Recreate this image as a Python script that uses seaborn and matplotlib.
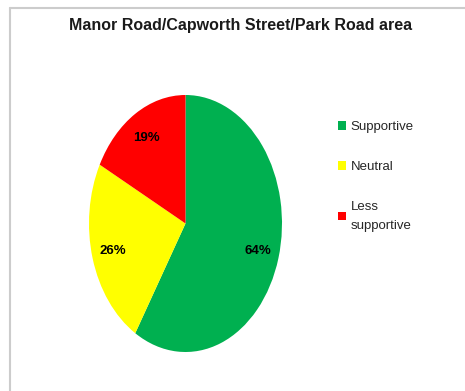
import matplotlib
matplotlib.use("Agg")
import matplotlib.pyplot as plt
import seaborn as sns
from matplotlib.patches import Patch
from matplotlib.lines import Line2D

# data
categories = ["Supportive", "Neutral", "Less\nsupportive"]
values = [64, 26, 19]
colors = ["#00b050", "#ffff00", "#ff0000"]

sns.set_theme(style="white")
plt.rcParams["font.family"] = ["Liberation Sans Narrow", "Liberation Sans", "DejaVu Sans"]

fig = plt.figure(figsize=(4.65, 3.91), dpi=100)
# pie is drawn slightly squashed, like the original
ax = fig.add_axes([89 / 465, 39 / 391, 193 / 465, 257 / 391])

total = sum(values)
wedges, texts, autotexts = ax.pie(
    values,
    colors=sns.color_palette(colors),
    startangle=90,
    counterclock=False,
    autopct=lambda p: f"{p * total / 100:.0f}%",
    pctdistance=0.78,
    wedgeprops={"linewidth": 0},
    textprops={"fontsize": 9.5, "fontweight": "bold", "color": "black"},
)
ax.set_aspect("auto")
ax.set_xlim(-1, 1)
ax.set_ylim(-1, 1)
ax.axis("off")

fig.suptitle("Manor Road/Capworth Street/Park Road area", x=0.517, y=0.955,
             fontsize=11.5, fontweight="bold", color="#1a1a1a")

handles = [Patch(facecolor=c, edgecolor="none") for c in colors]
leg = fig.legend(handles, categories, loc="upper left", bbox_to_anchor=(333 / 465, 1 - 116 / 391),
                 frameon=False, fontsize=9.5, handlelength=0.6, handleheight=0.6,
                 handletextpad=0.35, labelspacing=2.1, borderaxespad=0)
for t in leg.get_texts():
    t.set_linespacing(1.8)

# light grey frame on the left and top
fig.add_artist(Line2D([10 / 465, 10 / 465], [0, 1 - 8 / 391], color="#cccccc", lw=1.5,
                      transform=fig.transFigure))
fig.add_artist(Line2D([10 / 465, 1], [1 - 8 / 391, 1 - 8 / 391], color="#cccccc", lw=1.5,
                      transform=fig.transFigure))

fig.savefig("out.png", dpi=100)
